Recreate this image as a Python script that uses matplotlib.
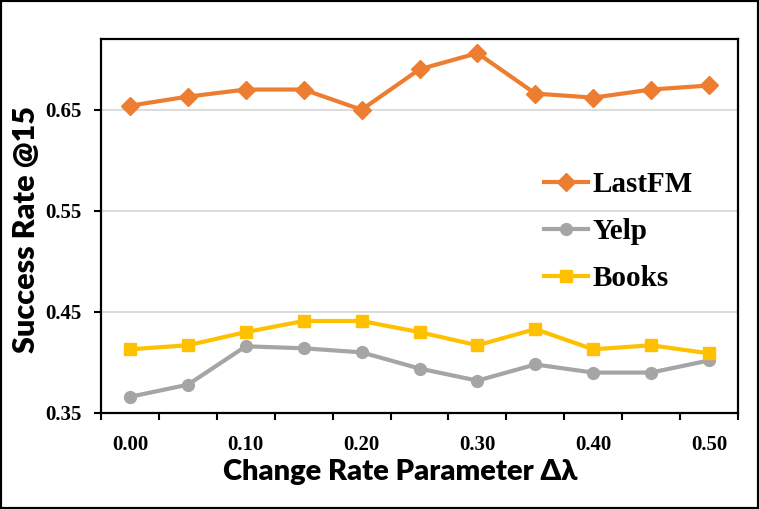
import matplotlib
matplotlib.use("Agg")
import matplotlib.pyplot as plt
from matplotlib.patches import Rectangle

categories = ["0.00", "0.05", "0.10", "0.15", "0.20", "0.25", "0.30", "0.35", "0.40", "0.45", "0.50"]
lastfm = [0.654, 0.663, 0.670, 0.670, 0.650, 0.690, 0.706, 0.666, 0.662, 0.670, 0.674]
yelp = [0.366, 0.378, 0.416, 0.414, 0.410, 0.394, 0.382, 0.398, 0.390, 0.390, 0.402]
books = [0.413, 0.417, 0.430, 0.441, 0.441, 0.430, 0.417, 0.433, 0.413, 0.417, 0.409]
y_ticks = [0.35, 0.45, 0.55, 0.65]
y_ticklabels = ["0.35", "0.45", "0.55", "0.65"]

serif = ["Liberation Serif", "DejaVu Serif"]
sans = ["Lato", "DejaVu Sans"]

fig = plt.figure(figsize=(7.59, 5.09), dpi=100)
ax = fig.add_axes([101/759, 1-413/509, (738-101)/759, (413-39)/509])

x = list(range(len(categories)))
lw = 3.0
ax.plot(x, lastfm, color="#ED7D31", lw=lw, marker="D", ms=9, label="LastFM", zorder=3)
ax.plot(x, yelp, color="#A5A5A5", lw=lw, marker="o", ms=8.5, label="Yelp", zorder=3)
ax.plot(x, books, color="#FFC000", lw=lw, marker="s", ms=8, label="Books", zorder=3)

ax.set_xlim(-0.5, len(categories) - 0.5)
ax.set_ylim(0.35, 0.72)

# y axis
ax.set_yticks(y_ticks)
ax.set_yticklabels(y_ticklabels, fontfamily=serif, fontweight="bold", fontsize=15)
ax.tick_params(axis="y", direction="out", length=5, width=1.5, pad=9)
for yt in y_ticks[1:]:
    ax.axhline(yt, color="#D9D9D9", lw=1.3, zorder=1)

# x axis: tick marks at category boundaries, labels at every other category
ax.set_xticks([i - 0.5 for i in range(len(categories) + 1)])
ax.set_xticklabels([])
ax.tick_params(axis="x", which="major", direction="out", length=5, width=1.5)
ax.set_xticks(x[::2], minor=True)
ax.set_xticklabels(categories[::2], minor=True, fontfamily=serif, fontweight="bold", fontsize=15)
ax.tick_params(axis="x", which="minor", length=0, pad=16)

for s in ax.spines.values():
    s.set_linewidth(1.6)
    s.set_color("black")

fig.text(400/759, 1-472/509, "Change Rate Parameter Δλ", family=sans, fontweight="heavy",
         fontsize=21, ha="center", va="center")
fig.text(26/759, 1-229/509, "Success Rate @15", family=sans, fontweight="heavy",
         fontsize=22, ha="center", va="center", rotation=90)

leg = ax.legend(loc="center left", bbox_to_anchor=(0.696, 0.485), frameon=False,
                prop={"family": serif, "weight": "bold", "size": 21},
                handlelength=1.5, handletextpad=0.15, labelspacing=0.69,
                borderpad=0, borderaxespad=0)

fig.patches.append(Rectangle((0, 0), 1, 1, transform=fig.transFigure, fill=False,
                             edgecolor="black", lw=3, zorder=10))

fig.savefig("out.png", dpi=100)
